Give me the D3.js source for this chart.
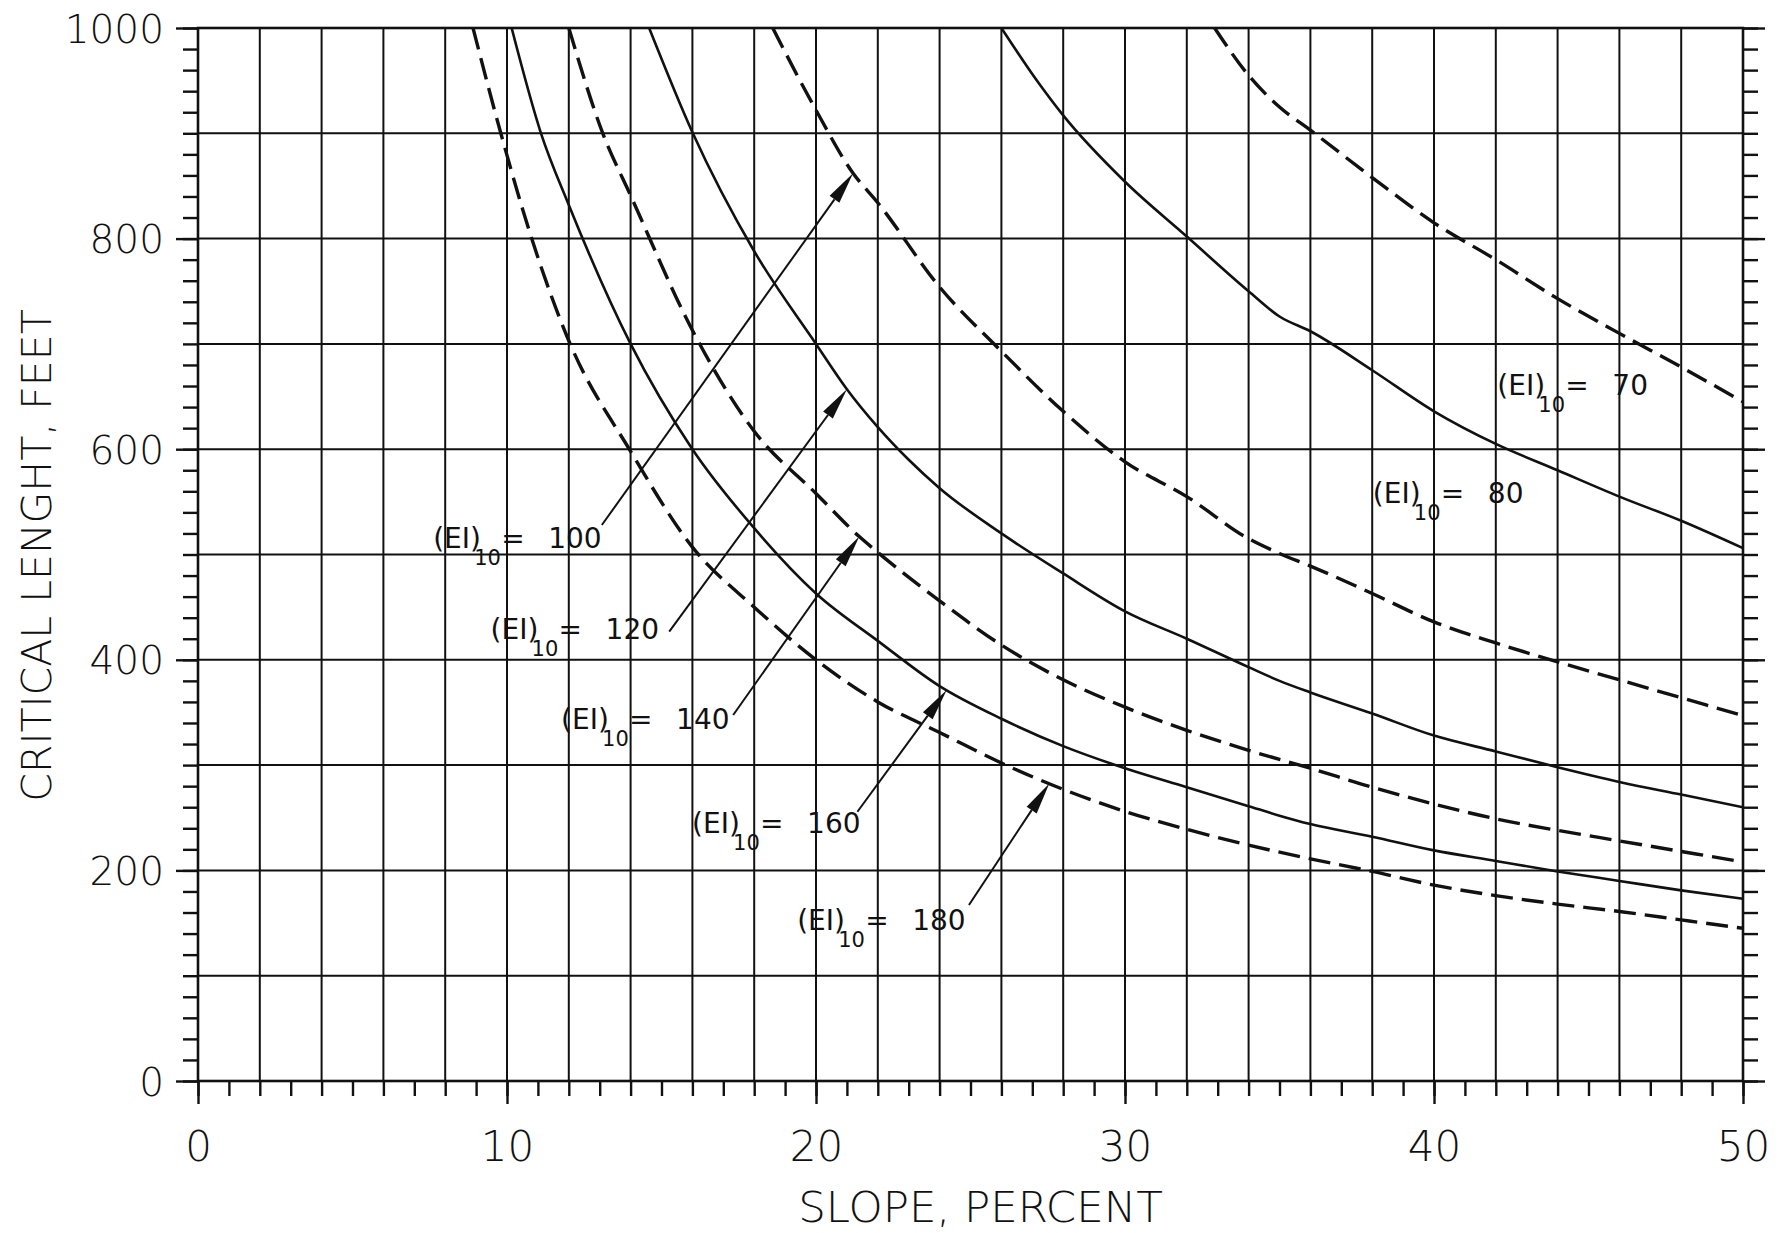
<!DOCTYPE html>
<html>
<head>
<meta charset="utf-8">
<script src="https://cdn.jsdelivr.net/npm/d3@7"></script>
<style>
  html, body { margin: 0; padding: 0; background: #fff; }
  svg { display: block; }
  text { font-family: "DejaVu Sans", sans-serif; font-weight: 200; fill: #111; }
  .note text { font-weight: 400; }
</style>
</head>
<body>
<svg id="chart"></svg>
<script>
// critical slope length curves, one per (EI)10 value: [slope %, length ft]
const ei70 = [[32.9, 1000], [34, 955], [35, 925], [36, 903], [38, 858], [40, 815], [42, 780], [44, 743], [46, 710], [48, 678], [50, 645]];
const ei80 = [[26, 1000], [27.2, 948], [28, 917], [30, 854], [32, 802], [34, 750], [35, 726], [36, 712], [38, 675], [40, 636], [42, 605], [44, 580], [46, 555], [48, 532], [50, 506]];
const ei100 = [[18.6, 1000], [20, 922], [21.2, 862], [22, 834], [24, 754], [26, 693], [28, 636], [30, 588], [32, 555], [34, 515], [35, 501], [36, 489], [38, 463], [40, 436], [42, 416], [44, 398], [46, 381], [48, 364], [50, 347]];
const ei120 = [[14.6, 1000], [16, 901], [18, 788], [20, 700], [21, 657], [22, 621], [23, 590], [24, 563], [26, 520], [28, 482], [30, 446], [32, 420], [34, 393], [35, 380], [36, 369], [38, 349], [40, 328], [42, 313], [44, 298], [46, 284], [48, 272], [50, 260]];
const ei140 = [[12, 1000], [13.1, 900], [14, 841], [16, 713], [18, 617], [20, 558], [21.4, 517], [22, 502], [24, 456], [26, 414], [28, 381], [30, 355], [32, 333], [34, 314], [36, 297], [38, 279], [40, 263], [42, 249], [44, 238], [46, 228], [48, 218], [50, 208]];
const ei160 = [[10.15, 1000], [11.1, 900], [12, 832], [14, 700], [16, 600], [18, 525], [20, 463], [22, 418], [24, 375], [26, 344], [28, 318], [30, 297], [32, 279], [34, 261], [35, 252], [36, 244], [38, 232], [40, 219], [42, 209], [44, 199], [46, 190], [48, 181], [50, 173]];
const ei180 = [[8.9, 1000], [9.8, 900], [10.8, 800], [12, 703], [14, 598], [16, 507], [18, 450], [20, 400], [22, 360], [24, 331], [26, 302], [28, 277], [30, 256], [32, 239], [34, 224], [36, 211], [38, 199], [40, 186], [42, 176], [44, 168], [46, 161], [48, 153], [50, 145]];

const eiValues = [70, 80, 100, 120, 140, 160, 180];
const xTickLabels = [0, 10, 20, 30, 40, 50];
const yTickLabels = [0, 200, 400, 600, 800, 1000];

const series = [
  { ei: 70, pts: ei70, dashed: true },
  { ei: 80, pts: ei80, dashed: false },
  { ei: 100, pts: ei100, dashed: true },
  { ei: 120, pts: ei120, dashed: false },
  { ei: 140, pts: ei140, dashed: true },
  { ei: 160, pts: ei160, dashed: false },
  { ei: 180, pts: ei180, dashed: true }
];

// callout placement (data units): label start, leader start, arrow tip slope
const callouts = [
  { ei: 100, at: [7.61, 506], from: [13.07, 528], tipX: 21.2 },
  { ei: 120, at: [9.47, 419.5], from: [15.25, 426.7], tipX: 21.0 },
  { ei: 140, at: [11.75, 334], from: [17.32, 347.6], tipX: 21.4 },
  { ei: 160, at: [15.99, 235.2], from: [21.34, 255.7], tipX: 24.23 },
  { ei: 180, at: [19.39, 143.4], from: [24.95, 167.1], tipX: 27.55 },
  { ei: 80, at: [38.02, 549.2] },
  { ei: 70, at: [42.05, 651.5] }
];

/// dimensions ///
const width = 1782;
const height = 1233;
const margin = { top: 28, right: 39, bottom: 152, left: 198 };

const x = d3.scaleLinear().domain([0, 50]).range([margin.left, width - margin.right]);
const y = d3.scaleLinear().domain([0, 1000]).range([height - margin.bottom, margin.top]);

const svg = d3.select("#chart")
  .attr("width", width)
  .attr("height", height);

svg.append("defs").append("clipPath").attr("id", "plot")
  .append("rect")
  .attr("x", x(0)).attr("y", y(1000))
  .attr("width", x(50) - x(0)).attr("height", y(0) - y(1000));

/// grid ///
const grid = svg.append("g").attr("stroke", "#111").attr("stroke-width", 2);
grid.selectAll("line.v")
  .data(d3.range(2, 50, 2))
  .join("line")
    .attr("class", "v")
    .attr("x1", d => x(d)).attr("x2", d => x(d))
    .attr("y1", y(1000)).attr("y2", y(0));
grid.selectAll("line.h")
  .data(d3.range(100, 1000, 100))
  .join("line")
    .attr("class", "h")
    .attr("x1", x(0)).attr("x2", x(50))
    .attr("y1", d => y(d)).attr("y2", d => y(d));

svg.append("rect")
  .attr("x", x(0)).attr("y", y(1000))
  .attr("width", x(50) - x(0)).attr("height", y(0) - y(1000))
  .attr("fill", "none").attr("stroke", "#111").attr("stroke-width", 2.6);

/// axes ///
const axisStyle = g => {
  g.select(".domain").remove();
  g.selectAll(".tick line").attr("stroke", "#111").attr("stroke-width", 2.4);
};

// minor ticks
svg.append("g").attr("transform", `translate(0,${y(0)})`)
  .call(d3.axisBottom(x).tickValues(d3.range(0, 51, 1)).tickSize(15).tickFormat(""))
  .call(axisStyle);
svg.append("g").attr("transform", `translate(${x(0)},0)`)
  .call(d3.axisLeft(y).tickValues(d3.range(0, 1001, 20)).tickSize(15).tickFormat(""))
  .call(axisStyle);
svg.append("g").attr("transform", `translate(${x(50)},0)`)
  .call(d3.axisRight(y).tickValues(d3.range(0, 1001, 20)).tickSize(15).tickFormat(""))
  .call(axisStyle);

// labelled ticks
svg.append("g").attr("transform", `translate(0,${y(0)})`)
  .call(d3.axisBottom(x).tickValues(xTickLabels).tickSize(23).tickFormat(d3.format("d")))
  .call(axisStyle)
  .call(g => g.selectAll(".tick text")
    .attr("y", 80).attr("dy", null)
    .attr("font-size", 42));
svg.append("g").attr("transform", `translate(${x(0)},0)`)
  .call(d3.axisLeft(y).tickValues(yTickLabels).tickSize(22).tickFormat(d3.format("d")))
  .call(axisStyle)
  .call(g => g.selectAll(".tick text")
    .attr("x", -34).attr("dy", "0.36em")
    .attr("font-size", 39));
svg.append("g").attr("transform", `translate(${x(50)},0)`)
  .call(d3.axisRight(y).tickValues(yTickLabels).tickSize(22).tickFormat(""))
  .call(axisStyle);

svg.selectAll(".tick text").attr("fill", "#111").attr("font-family", null);

/// axis titles ///
svg.append("text")
  .attr("transform", `translate(51,${(y(0) + y(1000)) / 2 + 1}) rotate(-90)`)
  .attr("text-anchor", "middle")
  .attr("font-size", 41)
  .text("CRITICAL LENGHT, FEET");
svg.append("text")
  .attr("x", x(25) + 10).attr("y", 1222)
  .attr("text-anchor", "middle")
  .attr("font-size", 43.5)
  .text("SLOPE, PERCENT");

/// curves ///
const line = d3.line()
  .x(d => x(d[0]))
  .y(d => y(d[1]))
  .curve(d3.curveMonotoneX);

svg.append("g").attr("clip-path", "url(#plot)")
  .selectAll("path")
  .data(series)
  .join("path")
    .attr("d", d => line(d.pts))
    .attr("fill", "none")
    .attr("stroke", "#111")
    .attr("stroke-width", d => d.dashed ? 3.4 : 2.6)
    .attr("stroke-dasharray", d => d.dashed ? "22,9" : null);

/// callouts ///
const lengthAt = (pts, s) => {
  const i = d3.bisector(d => d[0]).right(pts, s);
  const a = pts[Math.max(i - 1, 0)], b = pts[Math.min(i, pts.length - 1)];
  if (a === b) return a[1];
  return a[1] + (b[1] - a[1]) * (s - a[0]) / (b[0] - a[0]);
};

const notes = svg.append("g").attr("class", "note");
callouts.forEach(c => {
  const s = series.find(d => d.ei === c.ei);
  const g = notes.append("g").attr("transform", `translate(${x(c.at[0])},${y(c.at[1])})`);
  g.append("text").attr("font-size", 28).text("(EI)");
  g.append("text").attr("x", 41).attr("y", 17).attr("font-size", 21).text("10");
  g.append("text").attr("x", 68).attr("font-size", 28).text("=");
  g.append("text").attr("x", 115).attr("font-size", 28).text(c.ei);

  if (c.tipX === undefined) return;
  const x0 = x(c.from[0]), y0 = y(c.from[1]);
  const x1 = x(c.tipX), y1 = y(lengthAt(s.pts, c.tipX));
  const ang = Math.atan2(y1 - y0, x1 - x0);
  const headLen = 32, headHalf = 6;
  const bx = x1 - headLen * Math.cos(ang), by = y1 - headLen * Math.sin(ang);
  notes.append("line")
    .attr("x1", x0).attr("y1", y0).attr("x2", bx).attr("y2", by)
    .attr("stroke", "#111").attr("stroke-width", 2);
  notes.append("path")
    .attr("d", d3.line()([
      [x1, y1],
      [bx + headHalf * Math.sin(ang), by - headHalf * Math.cos(ang)],
      [bx - headHalf * Math.sin(ang), by + headHalf * Math.cos(ang)]
    ]) + "Z")
    .attr("fill", "#111");
});
</script>
</body>
</html>
